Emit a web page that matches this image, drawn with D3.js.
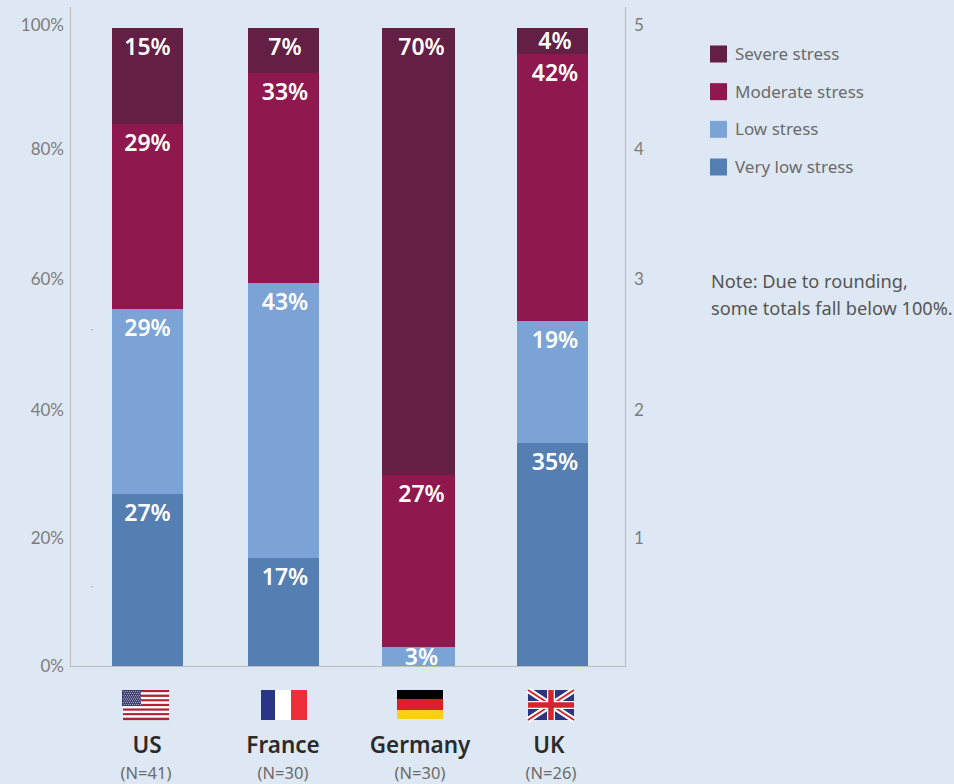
<!DOCTYPE html>
<html>
<head>
<meta charset="utf-8">
<script src="https://cdnjs.cloudflare.com/ajax/libs/d3/7.8.5/d3.min.js"></script>
<style>
html, body { margin: 0; padding: 0; background: #dee8f4; }
svg { display: block; font-family: "Noto Sans", sans-serif; }
</style>
</head>
<body>
<svg id="chart" width="954" height="784"></svg>
<script>
// Stress levels by country, percent of respondents
const countries = ["US", "France", "Germany", "UK"];
const sampleSizes = ["(N=41)", "(N=30)", "(N=30)", "(N=26)"];
const stressLevels = ["Very low stress", "Low stress", "Moderate stress", "Severe stress"];
const veryLow = [27, 17, 0, 35];
const low = [29, 43, 3, 19];
const moderate = [29, 33, 27, 42];
const severe = [15, 7, 70, 4];
const levelColors = ["#557eb3", "#7ba3d6", "#8f194f", "#641f45"];
const percentTicks = [0, 20, 40, 60, 80, 100];
const scoreTicks = [1, 2, 3, 4, 5];

const svg = d3.select("#chart");
const rows = countries.map((c, i) => ({
  country: c, "Very low stress": veryLow[i], "Low stress": low[i],
  "Moderate stress": moderate[i], "Severe stress": severe[i]
}));

// The columns are hand-spaced, so each category gets its own slot on the x ordinals
const barLeft = d3.scaleOrdinal().domain(countries).range([112, 248, 382, 517]);
const barWidth = d3.scaleOrdinal().domain(countries).range([71, 71, 73, 71]);
const valueX = d3.scaleOrdinal().domain(countries).range([147.5, 285, 421.5, 555]);
const nameX = d3.scaleOrdinal().domain(countries).range([147, 283, 420, 549]);
const sizeX = d3.scaleOrdinal().domain(countries).range([146, 283, 420, 551]);
const flagX = d3.scaleOrdinal().domain(countries).range([145, 284, 420, 551]);

const y = d3.scaleLinear().domain([0, 100]).rangeRound([666, 28]);
const color = d3.scaleOrdinal().domain(stressLevels).range(levelColors);

// Tick labels sit on their own slightly uneven ruler
const tickY = d3.scaleLinear().domain(percentTicks).range([666, 538, 410, 279, 149, 25]);
const scoreY = d3.scaleLinear().domain([0, 1, 2, 3, 4, 5]).range([666, 538, 410, 279, 149, 25]);

// Stacked bars
const stacked = d3.stack().keys(stressLevels)(rows);
const layers = svg.append("g").selectAll("g").data(stacked).join("g")
  .attr("fill", d => color(d.key));
layers.selectAll("rect").data(d => d).join("rect")
  .attr("x", d => barLeft(d.data.country))
  .attr("width", d => barWidth(d.data.country))
  .attr("y", d => y(d[1]))
  .attr("height", d => y(d[0]) - y(d[1]));

// Value labels near the top of each segment
const valueLayer = svg.append("g");
stacked.forEach(layer => {
  valueLayer.selectAll(null).data(layer.filter(d => d[1] > d[0])).join("text")
    .attr("x", d => valueX(d.data.country))
    .attr("y", d => y(d[1]) + Math.min(19, (y(d[0]) - y(d[1])) / 2))
    .attr("dy", "0.36em")
    .attr("text-anchor", "middle")
    .attr("fill", "#fff")
    .attr("font-size", 23)
    .attr("font-weight", 600)
    .text(d => (d[1] - d[0]) + "%");
});

// Left and right axes with the frame lines
const styleAxis = g => {
  g.selectAll(".tick line").remove();
  g.select(".domain").remove();
  g.selectAll("text").attr("fill", "#7c7c7c").attr("font-size", 17).attr("font-family", "Lato, sans-serif");
};
svg.append("g").attr("transform", "translate(70,0)")
  .call(d3.axisLeft(tickY).tickValues(percentTicks).tickFormat(d => d + "%").tickSize(0).tickPadding(6))
  .call(styleAxis);
svg.append("g").attr("transform", "translate(625,0)")
  .call(d3.axisRight(scoreY).tickValues(scoreTicks).tickFormat(d3.format("d")).tickSize(0).tickPadding(9))
  .call(styleAxis);

const frame = svg.append("g").attr("stroke", "#bcbdbd").attr("stroke-width", 1.2).attr("fill", "none");
frame.append("line").attr("x1", 70.5).attr("x2", 70.5).attr("y1", 7).attr("y2", 666);
frame.append("line").attr("x1", 625.5).attr("x2", 625.5).attr("y1", 7).attr("y2", 666);
frame.append("line").attr("x1", 70).attr("x2", 626).attr("y1", 666.5).attr("y2", 666.5);

// Two faint dots left of the first column
svg.append("g").attr("fill", "#a9a9a9").selectAll("rect").data([329, 586]).join("rect")
  .attr("x", 91.5).attr("y", d => d).attr("width", 1.4).attr("height", 1.4);

// Category labels
const catLabels = svg.append("g").attr("text-anchor", "middle");
catLabels.selectAll(".name").data(countries).join("text").attr("class", "name")
  .attr("x", d => nameX(d)).attr("y", 753)
  .attr("fill", "#2b2b2b").attr("font-size", 22.5).attr("font-weight", 600)
  .text(d => d);
catLabels.selectAll(".size").data(countries).join("text").attr("class", "size")
  .attr("x", d => sizeX(d)).attr("y", 779)
  .attr("fill", "#6b6b6b").attr("font-size", 16.5)
  .text((d, i) => sampleSizes[i]);

// Flags, 46 wide by 30 tall, drawn from the origin of each group
const flagG = svg.append("g").selectAll("g").data(countries).join("g")
  .attr("transform", d => `translate(${flagX(d) - 23},690)`);

function usFlag(g) {
  const stripes = d3.range(13);
  g.selectAll(".stripe").data(stripes).join("rect").attr("class", "stripe")
    .attr("x", 1).attr("width", 46).attr("y", d => d * 30 / 13).attr("height", 30 / 13 + 0.1)
    .attr("fill", d => d % 2 ? "#fff" : "#b22234");
  g.append("rect").attr("width", 19).attr("height", 16).attr("fill", "#3c3b6e");
  const starRows = d3.range(8), starCols = d3.range(9);
  starRows.forEach(r => starCols.forEach(c => {
    g.append("circle").attr("cx", 1.3 + c * 2.05 + (r % 2 ? 1 : 0)).attr("cy", 1.5 + r * 1.85)
      .attr("r", 0.55).attr("fill", "#c9c9de");
  }));
}
function frFlag(g) {
  [["#2a3587", 0, 14], ["#fff", 14, 16], ["#ee2e3a", 30, 16]].forEach(([f, a, w]) =>
    g.append("rect").attr("x", a).attr("width", w).attr("height", 30).attr("fill", f));
}
function deFlag(g) {
  [["#000", 0, 9], ["#dd1f26", 9, 11], ["#ffce1a", 20, 9]].forEach(([f, a, h]) =>
    g.append("rect").attr("y", a).attr("width", 46).attr("height", h).attr("fill", f));
}
function ukFlag(g) {
  const w = 46, h = 30;
  g.append("rect").attr("width", w).attr("height", h).attr("fill", "#2a3580");
  const diag = `M0,0L${w},${h}M${w},0L0,${h}`;
  g.append("path").attr("d", diag).attr("stroke", "#fff").attr("stroke-width", 6);
  g.append("path").attr("d", diag).attr("stroke", "#d5232f").attr("stroke-width", 2);
  const cross = `M${w / 2},0V${h}M0,${h / 2}H${w}`;
  g.append("path").attr("d", cross).attr("stroke", "#fff").attr("stroke-width", 8);
  g.append("path").attr("d", cross).attr("stroke", "#d5232f").attr("stroke-width", 5.5);
}
const flagDrawers = { US: usFlag, France: frFlag, Germany: deFlag, UK: ukFlag };
flagG.each(function (d) { flagDrawers[d](d3.select(this)); });

// Legend, severe at the top
const legendRow = d3.scalePoint().domain(stressLevels.slice().reverse()).range([54, 167]);
const legend = svg.append("g").selectAll("g").data(stressLevels).join("g")
  .attr("transform", d => `translate(710,${legendRow(d)})`);
legend.append("rect").attr("y", -8.5).attr("width", 17).attr("height", 17).attr("fill", d => color(d));
legend.append("text").attr("x", 25).attr("dy", "0.35em")
  .attr("fill", "#6b6b6b").attr("font-size", 17).text(d => d);

// Footnote
const noteLines = ["Note: Due to rounding,", "some totals fall below 100%."];
svg.append("g").selectAll("text").data(noteLines).join("text")
  .attr("x", 711).attr("y", (d, i) => 288 + i * 27)
  .attr("fill", "#555").attr("font-size", 18.2).text(d => d);
</script>
</body>
</html>
